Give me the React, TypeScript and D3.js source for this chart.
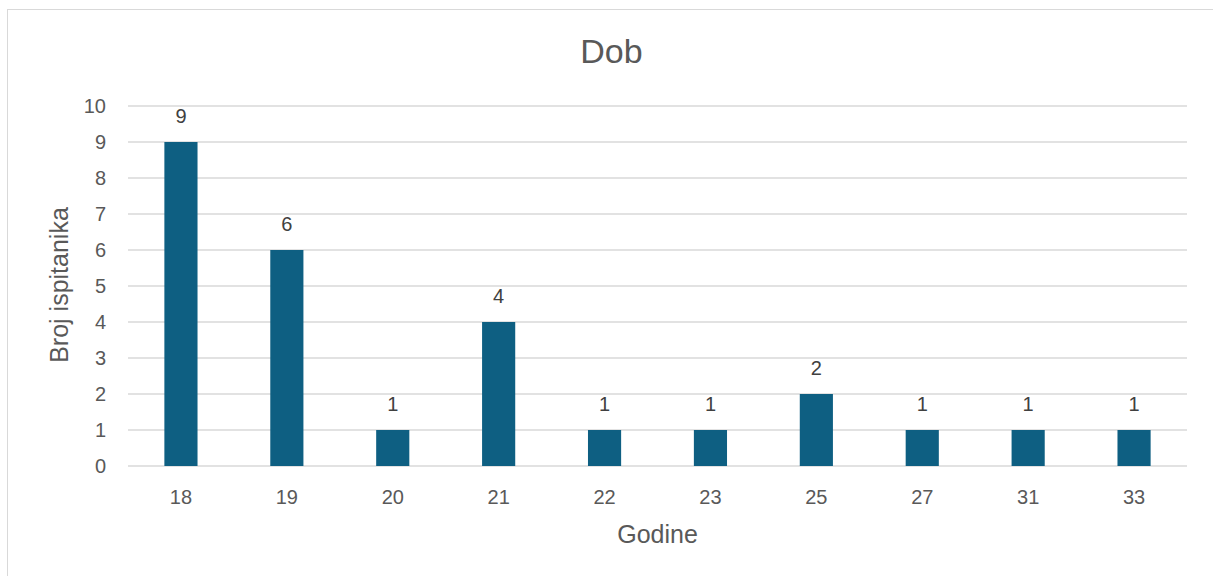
import React, { useEffect, useRef } from "react";
import * as d3 from "d3";

const categories = ["18", "19", "20", "21", "22", "23", "25", "27", "31", "33"];
const values = [9, 6, 1, 4, 1, 1, 2, 1, 1, 1];
const yTicks = [0, 1, 2, 3, 4, 5, 6, 7, 8, 9, 10];
const title = "Dob";
const xTitle = "Godine";
const yTitle = "Broj ispitanika";

const W = 1213;
const H = 576;
const FONT = "'Liberation Sans', Arial, sans-serif";
const TEXT = "#595959";

export default function App() {
  const ref = useRef<SVGSVGElement>(null);
  useEffect(() => {
    const svg = d3.select(ref.current);
    svg.selectAll("*").remove();
    const left = 128, right = 1187, top = 106, bottom = 466;
    const x = d3.scaleBand<string>().domain(categories).range([left, right]).paddingInner(0.687).paddingOuter(0.3435);
    const y = d3.scaleLinear().domain([0, 10]).range([bottom, top]);

    svg.append("rect").attr("width", W).attr("height", H).attr("fill", "#fff");
    svg.append("rect").attr("x", 7.5).attr("y", 9.5).attr("width", 1216 - 7).attr("height", 600)
      .attr("fill", "none").attr("stroke", "#d9d9d9").attr("stroke-width", 1);

    svg.append("text").attr("x", 611.5).attr("y", 51).attr("dy", "0.35em").attr("text-anchor", "middle")
      .attr("font-family", FONT).attr("font-size", 34).attr("fill", TEXT).text(title);

    const g = svg.append("g");
    g.selectAll("line.grid").data(yTicks).join("line")
      .attr("x1", left).attr("x2", right)
      .attr("y1", d => y(d)).attr("y2", d => y(d))
      .attr("stroke", "#d9d9d9").attr("stroke-width", 1.5);

    g.selectAll("text.yt").data(yTicks).join("text")
      .attr("x", 106).attr("y", d => y(d)).attr("dy", "0.35em").attr("text-anchor", "end")
      .attr("font-family", FONT).attr("font-size", 20).attr("fill", TEXT).text(d => String(d));

    g.selectAll("rect.bar").data(values).join("rect")
      .attr("x", (_, i) => x(categories[i])!).attr("width", x.bandwidth())
      .attr("y", d => y(d)).attr("height", d => y(0) - y(d))
      .attr("fill", "#0e5f82");

    g.selectAll("text.lbl").data(values).join("text")
      .attr("x", (_, i) => x(categories[i])! + x.bandwidth() / 2).attr("y", d => y(d) - 26)
      .attr("dy", "0.35em").attr("text-anchor", "middle")
      .attr("font-family", FONT).attr("font-size", 20).attr("fill", "#404040").text(d => String(d));

    g.selectAll("text.xt").data(categories).join("text")
      .attr("x", c => x(c)! + x.bandwidth() / 2).attr("y", 497).attr("dy", "0.35em")
      .attr("text-anchor", "middle").attr("font-family", FONT).attr("font-size", 20).attr("fill", TEXT).text(c => c);

    svg.append("text").attr("x", (left + right) / 2).attr("y", 534).attr("dy", "0.35em").attr("text-anchor", "middle")
      .attr("font-family", FONT).attr("font-size", 25).attr("fill", TEXT).text(xTitle);

    svg.append("text").attr("transform", `translate(59,285) rotate(-90)`).attr("dy", "0.35em")
      .attr("text-anchor", "middle").attr("font-family", FONT).attr("font-size", 25).attr("fill", TEXT).text(yTitle);
  }, []);
  return (
    <svg ref={ref} width={W} height={H} style={{ position: "absolute", left: 0, top: 0, display: "block" }} />
  );
}
